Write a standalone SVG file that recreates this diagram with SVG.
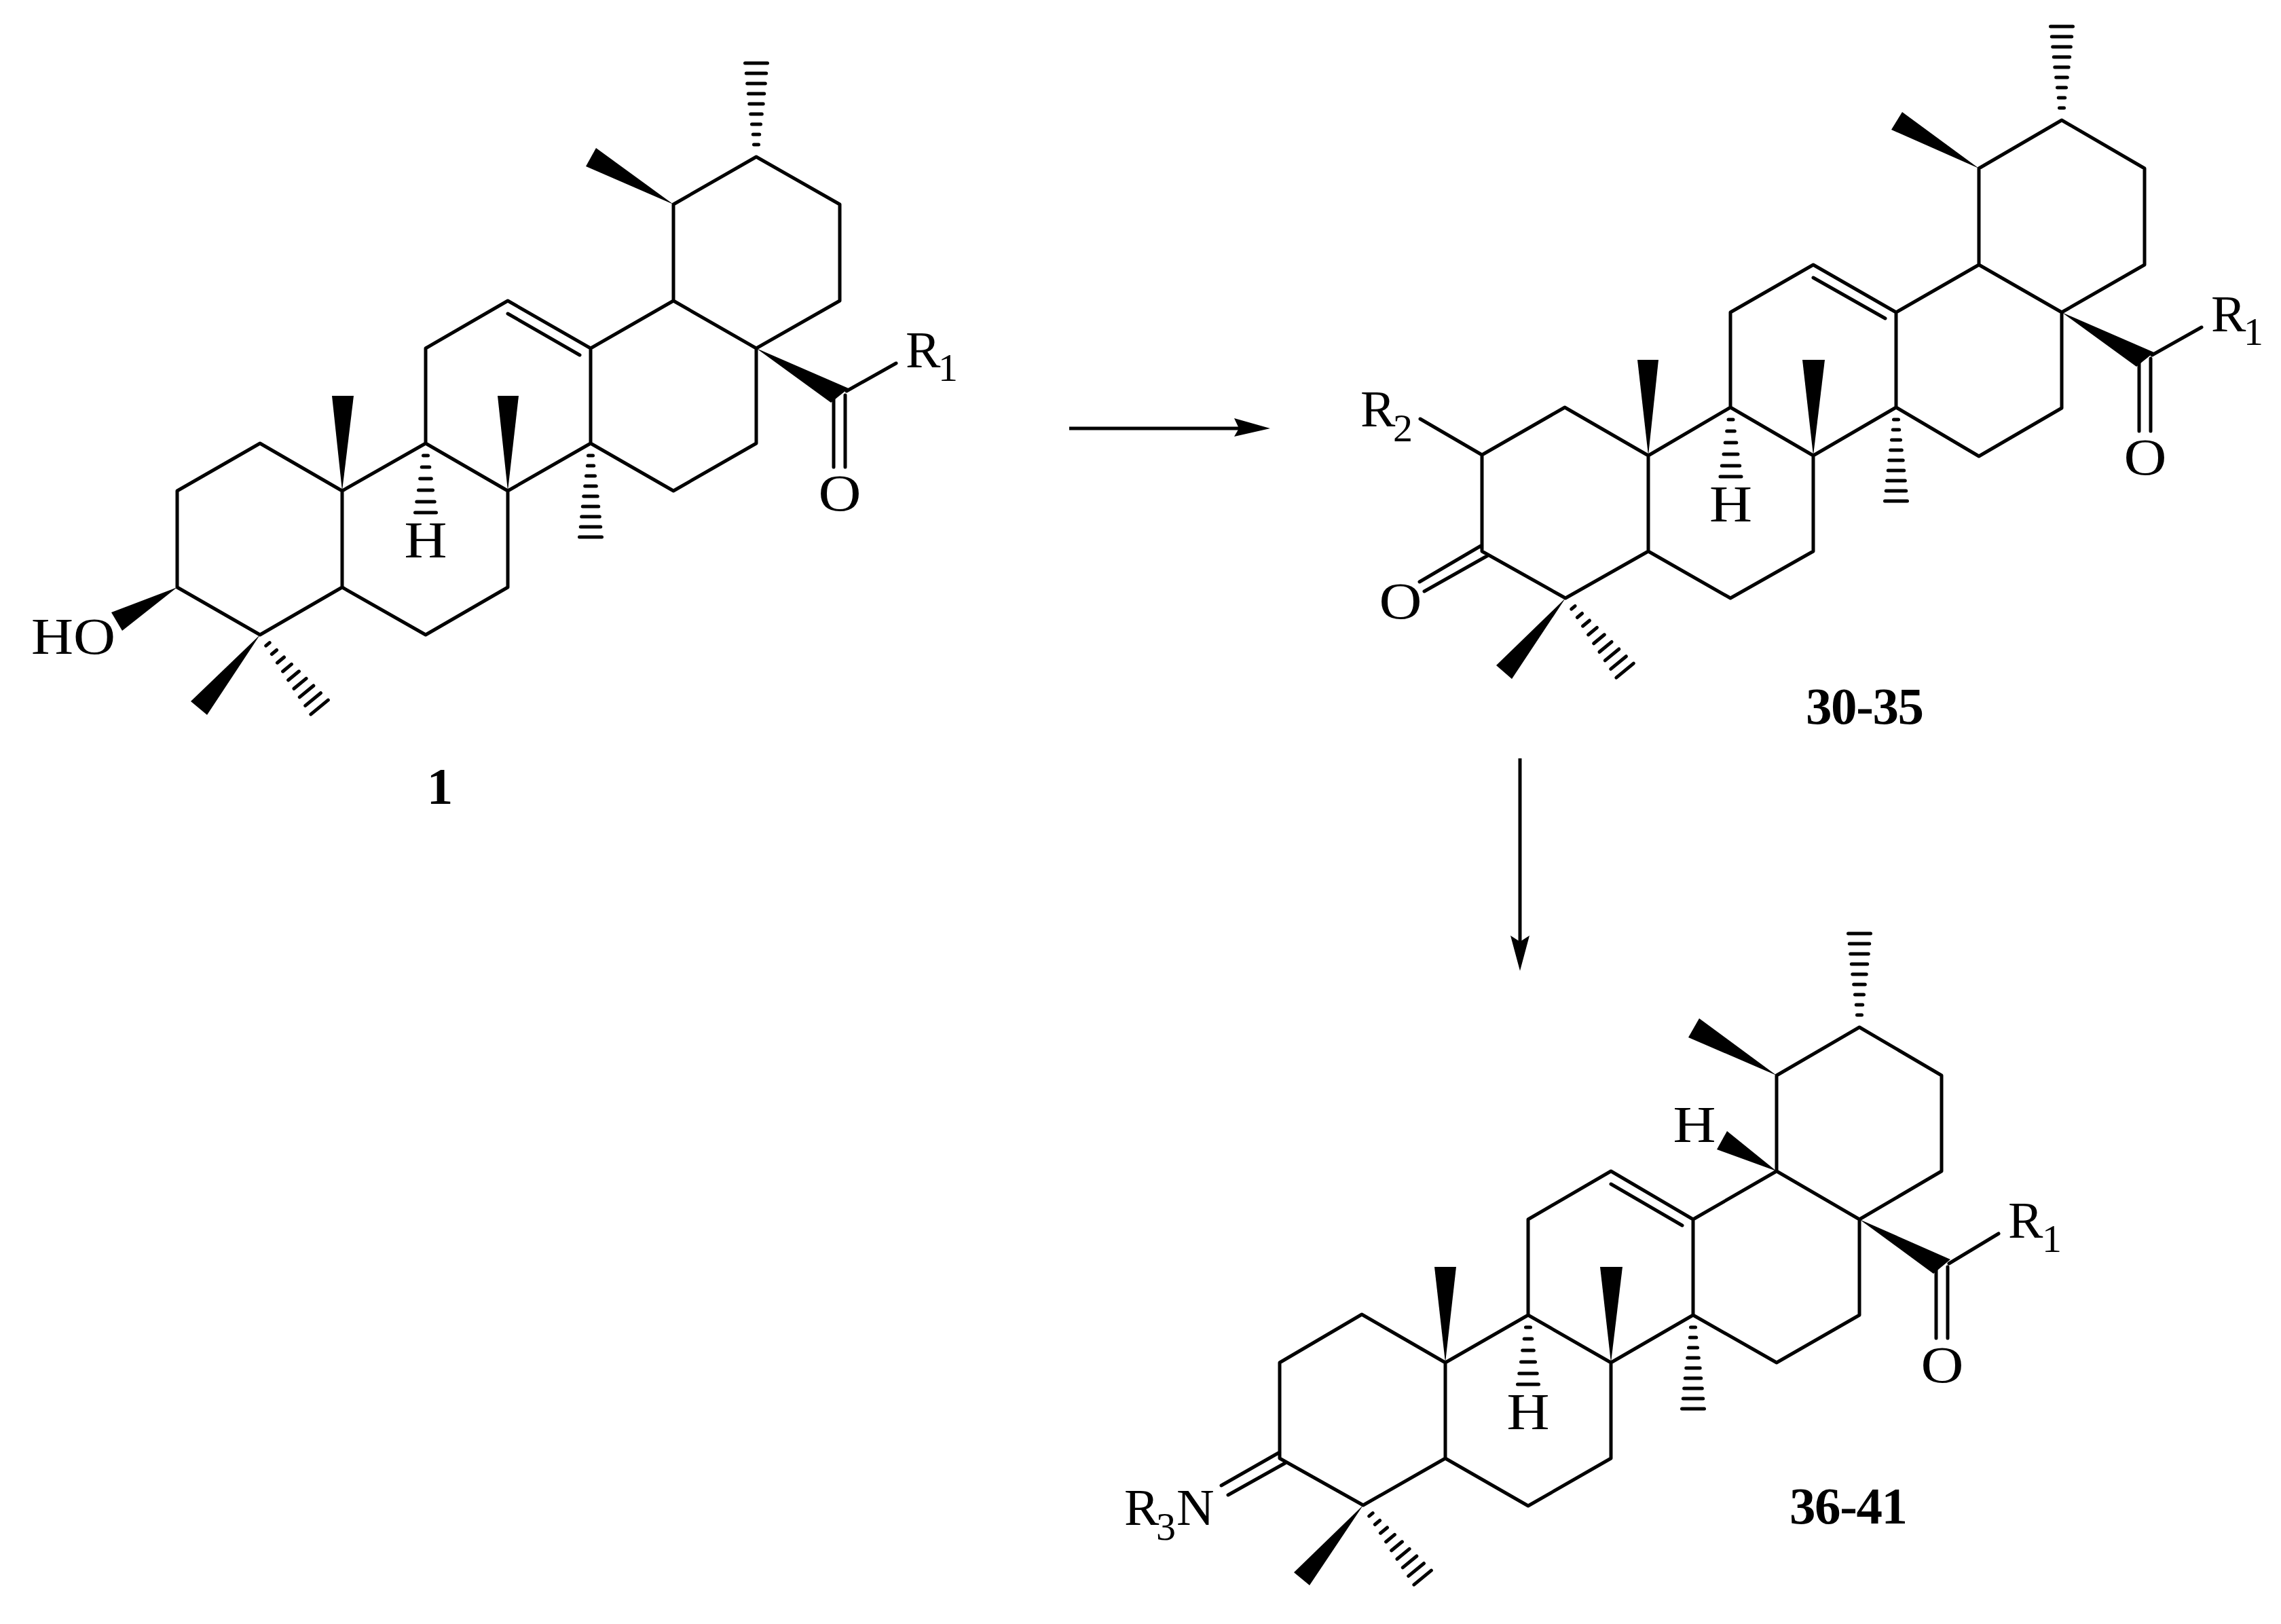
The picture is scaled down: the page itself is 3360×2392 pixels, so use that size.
<svg xmlns="http://www.w3.org/2000/svg" xmlns:xlink="http://www.w3.org/1999/xlink" width="3360" height="2392" viewBox="0 0 3360 2392">
<style>
.bond{fill:none;stroke:#000;stroke-width:5;stroke-linejoin:round;stroke-linecap:round}
.dash{fill:none;stroke:#000;stroke-width:5;stroke-linecap:round}
.wedge{fill:#000;stroke:none}
.arrow{fill:none;stroke:#000;stroke-width:5}
text{font-family:"Liberation Serif","Times New Roman",serif;font-size:77px;fill:#000}
.s{font-size:58px}
.c{text-anchor:middle}
.b{font-weight:700}
</style>
<defs>
<path id="hash9" class="dash" d="M-3.5-18H3.5M-4.7-33H4.7M-6.5-48H6.5M-8.3-63H8.3M-10.2-78H10.2M-11.7-93H11.7M-13.3-108H13.3M-14.7-123H14.7M-16.5-138H16.5"/>
<path id="hashH" class="dash" d="M-3.5 18H3.5M-5.8 35H5.8M-8.3 52H8.3M-10.5 69H10.5M-13.2 86H13.2M-15.5 102H15.5"/>
</defs>
<rect width="3360" height="2392" fill="#fff"/>
<g id="molecule-1">
<path class="bond" d="M992 443V301L1114 231L1237 301V443L1114 513L992 443L870 513L748 443L627 513V653L504 723L383 653L261 723V865L383 935L504 865V723M504 865L627 935L748 865V723L627 653M748 723L870 653V513M870 653L992 723L1114 653V513M748 462L854 523M1247 576L1320 535M1228 582V688M1245 582V688"/>
<polygon class="wedge" points="992,301 878,218 863,245"/>
<polygon class="wedge" points="504,723 489,583 521,583"/>
<polygon class="wedge" points="748,723 733,583 764,583"/>
<polygon class="wedge" points="1114,513 1250,572 1224,593"/>
<polygon class="wedge" points="261,865 164,902 180,929"/>
<polygon class="wedge" points="383,935 281,1033 305,1053"/>
<use xlink:href="#hash9" href="#hash9" transform="translate(1114 231)"/>
<use xlink:href="#hash9" href="#hash9" transform="translate(870 653) rotate(180)"/>
<use xlink:href="#hash9" href="#hash9" transform="translate(383 935) rotate(140.6)"/>
<use xlink:href="#hashH" href="#hashH" transform="translate(627 653)"/>
<text class="c" x="627" y="821" textLength="63" lengthAdjust="spacingAndGlyphs">H</text>
<text class="c" x="1237" y="752" textLength="63" lengthAdjust="spacingAndGlyphs">O</text>
<text x="46" y="963" textLength="124" lengthAdjust="spacingAndGlyphs">HO</text>
<text x="1334" y="541">R<tspan class="s" x="1382" y="561">1</tspan></text>
<text class="b c" x="648" y="1184">1</text>
</g>
<g id="molecule-30-35">
<path class="bond" d="M2915 390V248L3037 177L3159 248V390L3037 460L2915 390L2793 460L2671 390L2549 460V600L2428 671L2305 600L2183 670V812L2306 881L2428 812V671M2428 812L2549 881L2671 812V671L2549 600M2671 671L2793 600V460M2793 600L2915 672L3037 601V460M2671 409L2777 469M3170 523L3243 482M3151 528V635M3168 528V635M2092 617L2183 670M2183 803L2091 857M2192 818L2098 871"/>
<polygon class="wedge" points="2915,248 2802,165 2786,191"/>
<polygon class="wedge" points="2428,671 2412,530 2443,530"/>
<polygon class="wedge" points="2671,671 2655,530 2688,530"/>
<polygon class="wedge" points="3037,460 3173,519 3147,540"/>
<polygon class="wedge" points="2306,881 2204,980 2227,1000"/>
<use xlink:href="#hash9" href="#hash9" transform="translate(3037 177)"/>
<use xlink:href="#hash9" href="#hash9" transform="translate(2793 600) rotate(180)"/>
<use xlink:href="#hash9" href="#hash9" transform="translate(2306 881) rotate(140.6)"/>
<use xlink:href="#hashH" href="#hashH" transform="translate(2549.5 600)"/>
<text class="c" x="2549.5" y="768" textLength="63" lengthAdjust="spacingAndGlyphs">H</text>
<text class="c" x="3160" y="699" textLength="63" lengthAdjust="spacingAndGlyphs">O</text>
<text class="c" x="2063" y="911" textLength="63" lengthAdjust="spacingAndGlyphs">O</text>
<text x="3257" y="488">R<tspan class="s" x="3305" y="508">1</tspan></text>
<text x="2004" y="628">R<tspan class="s" x="2052" y="650">2</tspan></text>
<text class="b" x="2660" y="1066" textLength="174">30-35</text>
</g>
<g id="molecule-36-41">
<path class="bond" d="M2617 1725V1584L2739 1513L2860 1584V1725L2739 1796L2617 1725L2494 1796L2373 1725L2251 1796V1937L2129 2007L2006 1936L1885 2007V2148L2008 2217L2129 2148V2007M2129 2148L2251 2218L2373 2148V2007L2251 1937M2373 2007L2494 1937V1796M2494 1937L2617 2007L2739 1937V1796M2373 1744L2478 1805M2871 1861L2944 1817M2852 1866V1971M2869 1866V1971M1885 2139L1799 2188M1893 2155L1809 2202"/>
<polygon class="wedge" points="2617,1584 2503,1500 2487,1528"/>
<polygon class="wedge" points="2617,1725 2544,1666 2529,1693"/>
<polygon class="wedge" points="2129,2007 2113,1866 2145,1866"/>
<polygon class="wedge" points="2373,2007 2357,1866 2390,1866"/>
<polygon class="wedge" points="2739,1796 2873,1855 2848,1876"/>
<polygon class="wedge" points="2008,2217 1906,2316 1929,2335"/>
<use xlink:href="#hash9" href="#hash9" transform="translate(2739 1513)"/>
<use xlink:href="#hash9" href="#hash9" transform="translate(2494 1937) rotate(180)"/>
<use xlink:href="#hash9" href="#hash9" transform="translate(2008 2217) rotate(140.6)"/>
<use xlink:href="#hashH" href="#hashH" transform="translate(2251 1937)"/>
<text class="c" x="2251" y="2105" textLength="63" lengthAdjust="spacingAndGlyphs">H</text>
<text class="c" x="2496" y="1682" textLength="63" lengthAdjust="spacingAndGlyphs">H</text>
<text class="c" x="2861" y="2036" textLength="63" lengthAdjust="spacingAndGlyphs">O</text>
<text x="2958" y="1823">R<tspan class="s" x="3008" y="1844">1</tspan></text>
<text x="1656" y="2246">R<tspan class="s" x="1703" y="2268">3</tspan><tspan x="1733" y="2246">N</tspan></text>
<text class="b" x="2636" y="2244" textLength="174">36-41</text>
</g>
<g id="connectors">
<path class="arrow" d="M1575 631H1825"/>
<polygon class="wedge" points="1871,631 1818,616 1825,631 1818,643"/>
<path class="arrow" d="M2239 1117V1387"/>
<polygon class="wedge" points="2239,1430 2225,1378 2239,1387 2253,1378"/>
</g>
</svg>
